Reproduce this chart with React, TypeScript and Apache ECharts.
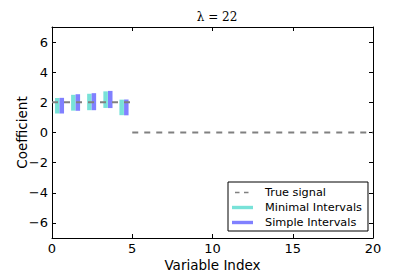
import React, { useEffect, useRef } from "react";
import * as echarts from "echarts";

const titleText = "λ = 22";
const xTicks = [0, 5, 10, 15, 20];
const yTicks = [-6, -4, -2, 0, 2, 4, 6];

const signalStartX = [0, 5];
const signalEndX = [5, 20];
const signalValue = [2, 0];

const minimalX = [0.33, 1.33, 2.33, 3.34, 4.34];
const minimalLower = [1.26, 1.45, 1.48, 1.63, 1.15];
const minimalUpper = [2.29, 2.5, 2.57, 2.73, 2.18];

const simpleX = [0.61, 1.61, 2.61, 3.63, 4.63];
const simpleLower = [1.26, 1.44, 1.48, 1.62, 1.14];
const simpleUpper = [2.3, 2.54, 2.61, 2.76, 2.19];

const CYAN = "#78e2d8";
const BLUE = "#8080ff";
const GRAY = "#808080";
const FONT = "DejaVu Sans";

export default function App() {
  const ref = useRef<HTMLDivElement>(null);
  useEffect(() => {
    if (!ref.current) return;
    const chart = echarts.init(ref.current, undefined, { renderer: "svg" });

    const intervalRender = (color: string) => (params: any, api: any) => {
      const x = api.value(0);
      const p1 = api.coord([x, api.value(1)]);
      const p2 = api.coord([x, api.value(2)]);
      return {
        type: "line",
        shape: { x1: p1[0], y1: p1[1], x2: p2[0], y2: p2[1] },
        style: { stroke: color, lineWidth: 4.5 },
      };
    };

    const signalSeries = signalStartX.map((sx, i) => ({
      name: "True signal",
      type: "line",
      data: [
        [sx, signalValue[i]],
        [signalEndX[i], signalValue[i]],
      ],
      showSymbol: false,
      symbol: "none",
      color: GRAY,
      lineStyle: { color: GRAY, width: 2, type: [6, 6] },
      z: 5,
    }));

    const axisCommon = {
      axisLine: { show: true, onZero: false, lineStyle: { color: "#000", width: 1 } },
      axisTick: { show: true, inside: true, length: 4, lineStyle: { color: "#000" } },
      splitLine: { show: false },
    };

    chart.setOption({
      animation: false,
      title: {
        text: titleText,
        left: 212,
        textAlign: "center",
        top: 6,
        textStyle: { fontFamily: "DejaVu Serif", fontSize: 12, fontWeight: "normal", color: "#000" },
      },
      grid: { left: 52, top: 27, width: 321, height: 215, containLabel: false },
      legend: {
        orient: "vertical",
        left: 228,
        top: 182,
        itemWidth: 28,
        itemHeight: 4,
        itemGap: 4,
        padding: [5, 6, 3, 4],
        borderColor: "#000",
        borderWidth: 1,
        borderRadius: 0,
        backgroundColor: "#fff",
        textStyle: { fontFamily: FONT, fontSize: 11.3, color: "#000" },
        data: [
          { name: "True signal", icon: "path://M0,0 M28,4 M3,1.2H7.5V2.8H3Z M12,1.2H16.5V2.8H12Z" },
          { name: "Minimal Intervals", icon: "path://M0,0 M28,4 M0,0.3H21V3.7H0Z" },
          { name: "Simple Intervals", icon: "path://M0,0 M28,4 M0,0.3H21V3.7H0Z" },
        ],
      },
      xAxis: [
        {
          type: "value",
          min: 0,
          max: 20,
          interval: 5,
          position: "bottom",
          name: "Variable Index",
          nameLocation: "middle",
          nameGap: 20,
          nameMoveOverlap: false,
          nameTextStyle: { fontFamily: FONT, fontSize: 13.5, color: "#000" },
          axisLabel: { fontFamily: FONT, fontSize: 13, color: "#000", margin: 4 },
          ...axisCommon,
        },
        {
          type: "value",
          min: 0,
          max: 20,
          interval: 5,
          position: "top",
          axisLabel: { show: false },
          ...axisCommon,
        },
      ],
      yAxis: [
        {
          type: "value",
          min: -7,
          max: 7,
          position: "left",
          name: "Coefficient",
          nameLocation: "middle",
          nameGap: 23,
          nameMoveOverlap: false,
          nameTextStyle: { fontFamily: FONT, fontSize: 13.5, color: "#000" },
          axisLabel: {
            fontFamily: FONT,
            fontSize: 13,
            color: "#000",
            margin: 4,
            customValues: yTicks,
            formatter: (v: number) => (v < 0 ? "\u2212" + Math.abs(v) : String(v)),
          },
          axisTick: { show: true, inside: true, length: 4, customValues: yTicks, lineStyle: { color: "#000" } },
          axisLine: axisCommon.axisLine,
          splitLine: { show: false },
        },
        {
          type: "value",
          min: -7,
          max: 7,
          position: "right",
          axisLabel: { show: false },
          axisTick: { show: true, inside: true, length: 4, customValues: yTicks, lineStyle: { color: "#000" } },
          axisLine: axisCommon.axisLine,
          splitLine: { show: false },
        },
      ],
      series: [
        ...signalSeries,
        {
          name: "Minimal Intervals",
          type: "custom",
          color: CYAN,
          itemStyle: { color: CYAN },
          renderItem: intervalRender(CYAN),
          data: minimalX.map((x, i) => [x, minimalLower[i], minimalUpper[i]]),
          z: 2,
        },
        {
          name: "Simple Intervals",
          type: "custom",
          color: BLUE,
          itemStyle: { color: BLUE },
          renderItem: intervalRender(BLUE),
          data: simpleX.map((x, i) => [x, simpleLower[i], simpleUpper[i]]),
          z: 3,
        },
      ],
    });
    return () => chart.dispose();
  }, []);
  return <div ref={ref} style={{ width: 415, height: 277, position: "absolute", left: 0, top: 0 }} />;
}
